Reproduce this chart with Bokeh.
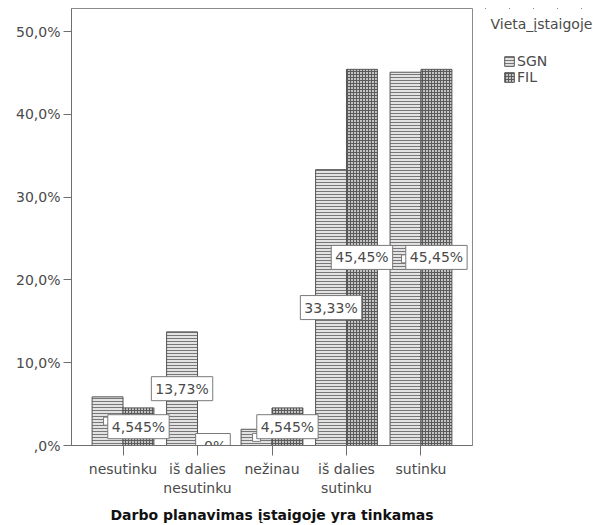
from bokeh.plotting import figure
from bokeh.models import (ColumnDataSource, FactorRange, Range1d, FixedTicker,
                          Legend, LegendItem, Label)
from bokeh.layouts import row
from bokeh.transform import dodge
from bokeh.core.properties import value
from bokeh.embed import file_html
from bokeh.resources import INLINE

# ---- data ----
categories = ["nesutinku", "iš dalies\nnesutinku", "nežinau", "iš dalies\nsutinku", "sutinku"]
sgn_values = [5.88, 13.73, 1.96, 33.33, 45.10]
fil_values = [4.545, 0.0, 4.545, 45.45, 45.45]
sgn_labels = ["", "13,73%", "", "33,33%", ""]
fil_labels = ["4,545%", ",0%", "4,545%", "45,45%", "45,45%"]
series_names = ["SGN", "FIL"]
y_ticks = [0, 10, 20, 30, 40, 50]
y_tick_labels = [",0%", "10,0%", "20,0%", "30,0%", "40,0%", "50,0%"]
x_title = "Darbo planavimas įstaigoje yra tinkamas"
legend_title = "Vieta_įstaigoje"

FONT = "DejaVu Sans"
TXT = "#4a4a4a"
AX = "#6e6e6e"

SGN_STYLE = dict(fill_color="#e3e3e3", line_color="#555555", line_width=1,
                 hatch_pattern="horizontal_line", hatch_scale=3, hatch_color="#777777",
                 hatch_weight=1)
FIL_STYLE = dict(fill_color="#c4c4c4", line_color="#555555", line_width=1,
                 hatch_pattern="cross", hatch_scale=3, hatch_color="#5a5a5a",
                 hatch_weight=1)

src = ColumnDataSource(dict(
    cat=categories,
    sgn=sgn_values,
    fil=fil_values,
    sgn_mid=[v / 2 for v in sgn_values],
    fil_mid=[v / 2 for v in fil_values],
    sgn_lab=sgn_labels,
    fil_lab=fil_labels,
))

p = figure(width=473, height=525, output_backend="svg", toolbar_location=None,
           x_range=FactorRange(factors=categories, range_padding=0.0766),
           y_range=Range1d(0, 52.8),
           min_border_left=71, min_border_right=1, min_border_top=8,
           min_border_bottom=80)

p.background_fill_color = "white"
p.border_fill_color = "white"
p.outline_line_color = "#8a8a8a"
p.outline_line_width = 1
p.xgrid.visible = False
p.ygrid.visible = False

BW = 0.415
r_sgn = p.vbar(x=dodge("cat", -0.2075, range=p.x_range), top="sgn", width=BW, source=src,
               **SGN_STYLE)
r_fil = p.vbar(x=dodge("cat", 0.2075, range=p.x_range), top="fil", width=BW, source=src,
               **FIL_STYLE)

for col_y, col_t, off in (("sgn_mid", "sgn_lab", -0.2075), ("fil_mid", "fil_lab", 0.2075)):
    p.text(x=dodge("cat", off, range=p.x_range), y=col_y, text=col_t, source=src,
           text_font=value(FONT), text_font_size="14px", text_color=TXT,
           text_align="center", text_baseline="middle",
           background_fill_color="white", border_line_color="#7a7a7a",
           border_line_width=1, padding=4)

# axes
p.yaxis.ticker = FixedTicker(ticks=y_ticks)
p.yaxis.major_label_overrides = {t: l for t, l in zip(y_ticks, y_tick_labels)}
p.yaxis.minor_tick_line_color = None
p.yaxis.major_tick_in = 0
p.yaxis.major_tick_out = 8
p.yaxis.major_label_standoff = 3
for ax in (p.xaxis[0], p.yaxis[0]):
    ax.axis_line_color = AX
    ax.major_tick_line_color = AX
    ax.major_label_text_font = FONT
    ax.major_label_text_font_size = "14px"
    ax.major_label_text_color = TXT

p.xaxis.major_tick_in = 0
p.xaxis.major_tick_out = 10
p.xaxis.major_label_standoff = 5
p.xaxis.major_label_orientation = "horizontal"
p.xaxis.axis_label = x_title
p.xaxis.axis_label_text_font = FONT
p.xaxis.axis_label_text_font_size = "14px"
p.xaxis.axis_label_text_font_style = "bold"
p.xaxis.axis_label_text_color = "#111111"
p.xaxis.axis_label_standoff = 8

# legend in a narrow side figure (its bars lie outside its own y range)
q = figure(width=120, height=525, output_backend="svg", toolbar_location=None,
           x_range=FactorRange(factors=categories), y_range=Range1d(-2, -1),
           min_border_left=0, min_border_right=0,
           min_border_top=8, min_border_bottom=80)
q.axis.visible = False
q.grid.visible = False
q.outline_line_color = None
q.background_fill_color = "white"
q.border_fill_color = "white"
lg_sgn = q.vbar(x="cat", top="sgn", width=0.001, source=src, **SGN_STYLE)
lg_fil = q.vbar(x="cat", top="fil", width=0.001, source=src, **FIL_STYLE)

q.add_layout(Label(x=17, y=422, x_units="screen", y_units="screen", text=legend_title,
                   text_font=FONT, text_font_size="14px", text_color=TXT,
                   text_baseline="middle", text_align="left"))

legend = Legend(items=[LegendItem(label=series_names[0], renderers=[lg_sgn]),
                       LegendItem(label=series_names[1], renderers=[lg_fil])],
                location=(30, 360),
                label_text_font=FONT, label_text_font_size="14px",
                label_text_color=TXT,
                glyph_width=12, glyph_height=12, label_height=14, label_standoff=2,
                spacing=0, padding=0, margin=0,
                background_fill_alpha=0, border_line_alpha=0)
q.add_layout(legend, "center")

layout = row(p, q, spacing=0)
open("out.html", "w").write(file_html(layout, INLINE))
